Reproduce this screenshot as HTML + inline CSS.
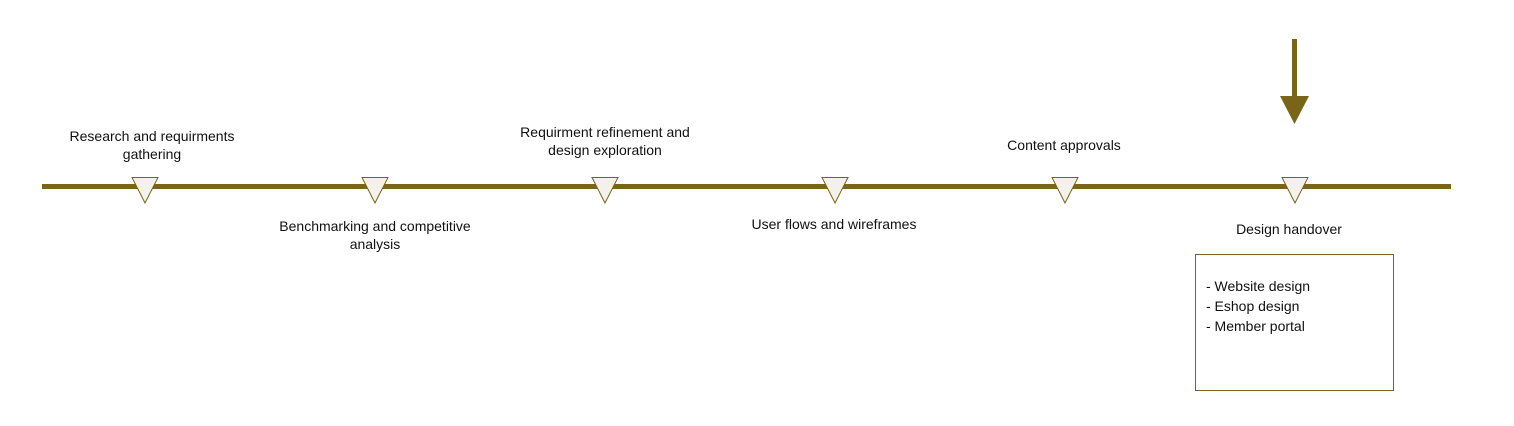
<!DOCTYPE html>
<html><head><style>
body{margin:0;width:1514px;height:426px;background:#fff;position:relative;overflow:hidden;font-family:"Liberation Sans",sans-serif;font-size:14px;color:#111}
.t{position:absolute;text-align:center;line-height:18px;transform:translateX(-50%);white-space:nowrap}
</style></head><body>
<svg width="1514" height="426" style="position:absolute;left:0;top:0">
<rect x="42" y="184" width="1409" height="5" fill="#7a6418"/>
<g fill="#f3f1ec" stroke="#7a6418" stroke-width="1">
<polygon points="132,177.5 158,177.5 145,203"/>
<polygon points="362,177.5 388,177.5 375,203"/>
<polygon points="592,177.5 618,177.5 605,203"/>
<polygon points="822,177.5 848,177.5 835,203"/>
<polygon points="1052,177.5 1078,177.5 1065,203"/>
<polygon points="1282,177.5 1308,177.5 1295,203"/>
</g>
<rect x="1292" y="39" width="5" height="58" fill="#7a6418"/>
<polygon points="1280,96 1309,96 1294.5,124" fill="#7a6418"/>
<rect x="1195.5" y="254.5" width="198" height="136" fill="#fff" stroke="#7a6418" stroke-width="1"/>
</svg>
<div class="t" style="left:152px;top:127px">Research and requirments<br>gathering</div>
<div class="t" style="left:375px;top:217px">Benchmarking and competitive<br>analysis</div>
<div class="t" style="left:605px;top:123px">Requirment refinement and<br>design exploration</div>
<div class="t" style="left:834px;top:215px">User flows and wireframes</div>
<div class="t" style="left:1064px;top:136px">Content approvals</div>
<div class="t" style="left:1289px;top:220px">Design handover</div>
<div style="position:absolute;left:1206px;top:276px;line-height:20px">- Website design<br>- Eshop design<br>- Member portal</div>
</body></html>
